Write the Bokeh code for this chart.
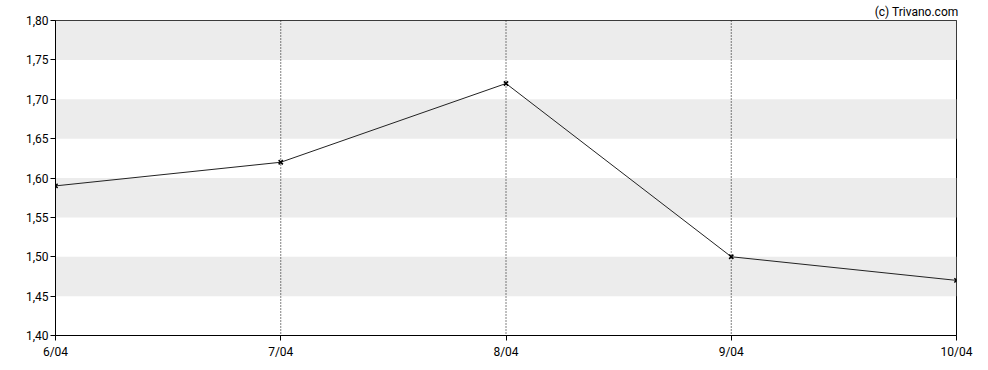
from bokeh.plotting import figure
from bokeh.models import Range1d, FixedTicker, Span
from bokeh.embed import file_html
from bokeh.resources import INLINE

dates = ["6/04", "7/04", "8/04", "9/04", "10/04"]
prices = [1.59, 1.62, 1.72, 1.50, 1.47]
y_ticks = [1.40, 1.45, 1.50, 1.55, 1.60, 1.65, 1.70, 1.75, 1.80]
band_bottoms = [1.45, 1.55, 1.65, 1.75]
band_tops = [1.50, 1.60, 1.70, 1.80]
vline_dates = [1, 2, 3]

xs = list(range(len(dates)))

p = figure(width=988, height=370, output_backend="svg", toolbar_location=None,
           x_range=Range1d(0, len(dates) - 1), y_range=Range1d(1.40, 1.80),
           min_border_left=55, min_border_right=32, min_border_top=0, min_border_bottom=35,
           title="(c) Trivano.com")
p.title.align = "right"
p.title.text_font = "Roboto"
p.title.text_font_size = "12px"
p.title.text_font_style = "normal"
p.title.text_color = "black"
p.title.offset = -2
p.title.standoff = 4

p.background_fill_color = "white"
p.border_fill_color = "white"
p.outline_line_color = "black"
p.outline_line_width = 1
p.xgrid.visible = False
p.ygrid.visible = False

p.quad(left=0, right=len(dates) - 1, bottom=band_bottoms, top=band_tops,
       fill_color="#ececec", line_color=None)

for xv in vline_dates:
    p.add_layout(Span(location=xv, dimension="height", line_color="black",
                      line_dash="1 2", line_width=1))

p.line(xs, prices, line_color="#222222", line_width=1)
p.scatter(xs, prices, marker="x", size=6, line_color="black", line_width=1.5)

for ax in (p.xaxis[0], p.yaxis[0]):
    ax.axis_line_color = "black"
    ax.major_tick_line_color = "black"
    ax.major_tick_out = 5
    ax.major_tick_in = 0
    ax.minor_tick_line_color = None
    ax.major_label_text_font = "Roboto"
    ax.major_label_text_font_size = "12px"
    ax.major_label_text_color = "black"

p.xaxis.ticker = FixedTicker(ticks=xs)
p.xaxis.major_label_overrides = {i: d for i, d in enumerate(dates)}
p.xaxis.major_label_standoff = 4
p.yaxis.ticker = FixedTicker(ticks=y_ticks)
p.yaxis.major_label_overrides = {t: f"{t:.2f}".replace(".", ",") for t in y_ticks}
p.yaxis.major_label_standoff = 2

open("out.html", "w").write(file_html(p, INLINE))
